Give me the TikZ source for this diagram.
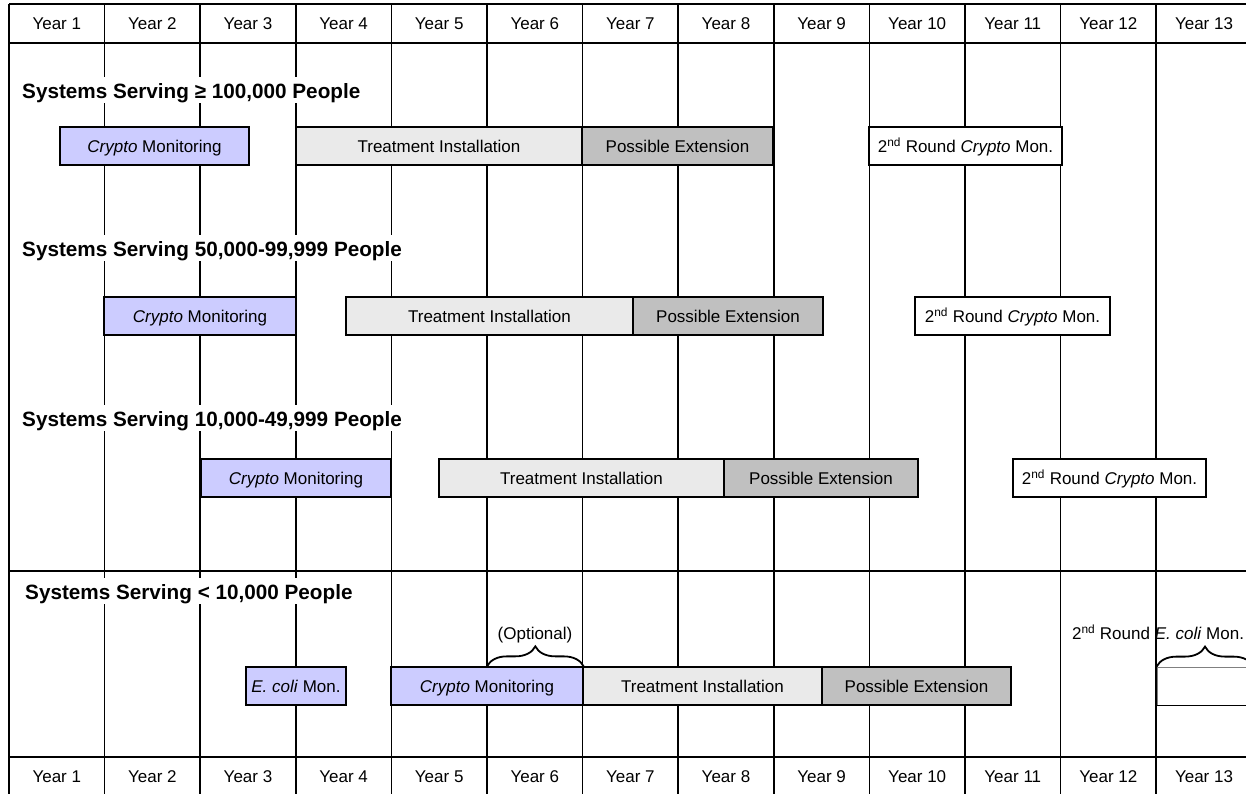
\documentclass[tikz,border=0pt]{standalone}
\usepackage{fontspec}
\setmainfont{Liberation Sans}
\usetikzlibrary{decorations.pathreplacing}
\definecolor{cryptofill}{HTML}{CCCCFF}
\definecolor{treatfill}{HTML}{EAEAEA}
\definecolor{extfill}{HTML}{C0C0C0}

\begin{document}
\begin{tikzpicture}[x=1pt,y=-1pt,
  gridline/.style={line width=1.6pt},
  bar/.style={draw, line width=1.3pt, inner sep=0pt, minimum height=38pt,
    text height=14.5pt, text depth=1.5pt,
    font=\fontsize{17}{20}\selectfont},
  crypto/.style={bar, fill=cryptofill},
  treat/.style={bar, fill=treatfill},
  ext/.style={bar, fill=extfill},
  second/.style={bar, fill=white},
  yearlbl/.style={inner sep=0pt, text height=14.5pt, text depth=1.5pt,
    font=\fontsize{17}{20}\selectfont},
  note/.style={inner sep=0pt, text height=14.5pt, text depth=1.5pt,
    font=\fontsize{17}{20}\selectfont},
  heading/.style={fill=white, anchor=west, inner xsep=4pt, inner ysep=3.5pt,
    text height=18pt, text depth=1.5pt,
    font=\fontsize{20.7}{24}\selectfont\bfseries},
  bracket/.style={decorate, decoration={brace, amplitude=20pt}, line width=1.8pt},
]
\useasboundingbox (0,0) rectangle (1246,793);
\clip (0,0) rectangle (1246,793);
\fill[white] (0,0) rectangle (1246,793);

% timeline grid
\foreach \i in {0,...,13}
  \draw[gridline] ({9+95.6*\i},4) -- ({9+95.6*\i},800);
\foreach \y in {4,43,571,757}
  \draw[gridline] (9,\y) -- (1260,\y);

% year labels, top and bottom
\foreach \i in {1,...,13} {
  \node[yearlbl] (yt\i) at ({9+95.6*(\i-0.5)},23) {Year \i};
  \node[yearlbl] (yb\i) at ({9+95.6*(\i-0.5)},776) {Year \i};
}

% section headings
\node[heading] (h1) at (18,90)  {Systems Serving ≥ 100,000 People};
\node[heading] (h2) at (18,248) {Systems Serving 50,000-99,999 People};
\node[heading] (h3) at (18,418) {Systems Serving 10,000-49,999 People};
\node[heading] (h4) at (21,591) {Systems Serving < 10,000 People};

% systems serving >= 100,000
\node[crypto, minimum width=189pt] (c1) at (154.5,146) {\textit{Crypto} Monitoring};
\node[treat,  minimum width=286pt] (t1) at (439,146)   {Treatment Installation};
\node[ext,    minimum width=191pt] (e1) at (677.5,146) {Possible Extension};
\node[second, minimum width=193pt] (r1) at (965.5,146) {2\textsuperscript{nd} Round \textit{Crypto} Mon.};

% systems serving 50,000-99,999
\node[crypto, minimum width=192pt] (c2) at (200,316)    {\textit{Crypto} Monitoring};
\node[treat,  minimum width=287pt] (t2) at (489.5,316)  {Treatment Installation};
\node[ext,    minimum width=190pt] (e2) at (728,316)    {Possible Extension};
\node[second, minimum width=195pt] (r2) at (1012.5,316) {2\textsuperscript{nd} Round \textit{Crypto} Mon.};

% systems serving 10,000-49,999
\node[crypto, minimum width=190pt] (c3) at (296,478)    {\textit{Crypto} Monitoring};
\node[treat,  minimum width=285pt] (t3) at (581.5,478)  {Treatment Installation};
\node[ext,    minimum width=194pt] (e3) at (821,478)    {Possible Extension};
\node[second, minimum width=193pt] (r3) at (1109.5,478) {2\textsuperscript{nd} Round \textit{Crypto} Mon.};

% systems serving < 10,000
\node[crypto, minimum width=100pt] (ec) at (296,686)   {\textit{E. coli} Mon.};
\node[crypto, minimum width=192pt] (c4) at (487,686)   {\textit{Crypto} Monitoring};
\node[treat,  minimum width=239pt] (t4) at (702.5,686) {Treatment Installation};
\node[ext,    minimum width=189pt] (e4) at (916.5,686) {Possible Extension};
\node[second, draw=gray, line width=0.8pt, minimum width=96pt] (w4) at (1205,686) {};
\draw[line width=1.3pt] (w4.north west) -- (w4.south west) -- (w4.south east);

% braces with their notes
\draw[bracket] (c4.north) -- (c4.north east);
\node[note] (opt) at (535,633) {(Optional)};
\draw[bracket] (w4.north west) -- (w4.north east);
\node[note] (ecoli2) at (1158,633) {2\textsuperscript{nd} Round \textit{E. coli} Mon.};
\end{tikzpicture}
\end{document}
